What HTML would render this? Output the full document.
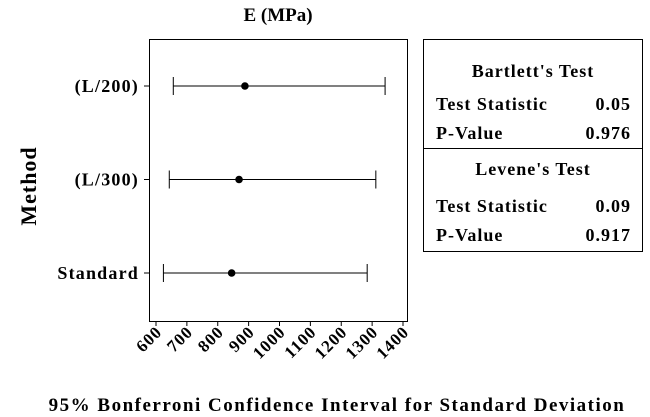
<!DOCTYPE html>
<html><head><meta charset="utf-8"><style>
body{margin:0;background:#fff}
svg{display:block;font-family:"Liberation Serif",serif;font-weight:bold}
</style></head><body>
<svg id="chart" width="650" height="417">
<text x="278" y="21" text-anchor="middle" font-size="19">E (MPa)</text>
<text transform="translate(36,186) rotate(-90)" text-anchor="middle" font-size="22" letter-spacing="1">Method</text>
<text x="337" y="411" text-anchor="middle" font-size="19" letter-spacing="1.5">95% Bonferroni Confidence Interval for Standard Deviation</text>
<rect x="149.5" y="39.5" width="258" height="282" fill="none" stroke="#000"/>
<g id="marks"></g>
<g>
<rect x="423.5" y="39.5" width="219" height="212" fill="none" stroke="#000"/>
<line x1="423.5" x2="642.5" y1="148.5" y2="148.5" stroke="#000"/>
<g font-size="18" letter-spacing="1">
<text x="533" y="77" text-anchor="middle">Bartlett's Test</text>
<text x="436" y="110">Test Statistic</text>
<text x="631" y="110" text-anchor="end">0.05</text>
<text x="436" y="139">P-Value</text>
<text x="631" y="139" text-anchor="end">0.976</text>
<text x="533" y="175" text-anchor="middle">Levene's Test</text>
<text x="436" y="212">Test Statistic</text>
<text x="631" y="212" text-anchor="end">0.09</text>
<text x="436" y="241">P-Value</text>
<text x="631" y="241" text-anchor="end">0.917</text>
</g></g>
</svg>
<script>
const categories=["(L/200)","(L/300)","Standard"];
const lowValues=[656,643,624];
const centerValues=[888,869,845];
const highValues=[1342,1312,1284];
const xTicks=[600,700,800,900,1000,1100,1200,1300,1400];
const NS="http://www.w3.org/2000/svg";
const g=document.getElementById('marks');
function xs(v){return 156+(v-600)*(403-156)/800;}
function ys(i){return 86+i*93.5;}
function mk(t,a){const e=document.createElementNS(NS,t);for(const k in a)e.setAttribute(k,a[k]);g.appendChild(e);return e;}
xTicks.forEach(function(v){
 const x=xs(v);
 const t=mk('line',{x1:x,x2:x,y1:321,y2:326,stroke:'#000'});
 
 
 const l=mk('text',{transform:'translate('+(x+7)+',333) rotate(-45)','text-anchor':'end','font-size':'17','letter-spacing':'1'});
 l.textContent=v;
 
 
});
categories.forEach(function(c,i){
 const y=ys(i);
 const tk=mk('line',{x1:144,x2:149,y1:y,y2:y,stroke:'#000'});
 
 
 const l=mk('text',{x:139,y:y+6,'text-anchor':'end','font-size':'18','letter-spacing':'1.2'});
 l.textContent=c;
 
 
 const x1=xs(lowValues[i]),x2=xs(highValues[i]);
 const ln=mk('path',{d:'M'+x1+' '+(y-9)+'V'+(y+9)+'M'+x1+' '+y+'H'+x2+'M'+x2+' '+(y-9)+'V'+(y+9),stroke:'#000',fill:'none'});
 
 
 const d=mk('circle',{cx:xs(centerValues[i]),cy:y,r:3.8,fill:'#000'});
 
 
});
</script>
</body></html>
